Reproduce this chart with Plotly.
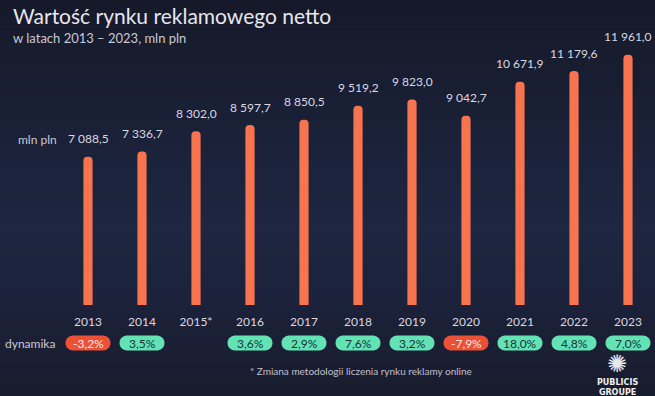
import math
import plotly.graph_objects as go

years = ["2013", "2014", "2015*", "2016", "2017", "2018", "2019", "2020", "2021", "2022", "2023"]
values = [7088.5, 7336.7, 8302.0, 8597.7, 8850.5, 9519.2, 9823.0, 9042.7, 10671.9, 11179.6, 11961.0]
dynamika = [-3.2, 3.5, None, 3.6, 2.9, 7.6, 3.2, -7.9, 18.0, 4.8, 7.0]

W, H = 655, 396
L, R, T, B = 61, 0, 40, 91
PW, PH = W - L - R, H - T - B


def px_x(px):
    return (px - L) / PW


def px_y(py):
    return (H - B - py) / PH


def pl(v, d=1):
    s = f"{abs(v):,.{d}f}".replace(",", " ").replace(".", ",")
    return ("-" if v < 0 else "") + s


def pill_path(hw, hh, n=14):
    a = hw - hh
    pts = []
    for k in range(n + 1):
        t = -math.pi / 2 + math.pi * k / n
        pts.append((a + hh * math.cos(t), hh * math.sin(t)))
    for k in range(n + 1):
        t = math.pi / 2 + math.pi * k / n
        pts.append((-a + hh * math.cos(t), hh * math.sin(t)))
    return "M " + " L ".join(f"{x:.2f},{y:.2f}" for x, y in pts) + " Z"


def mix(c1, c2, t):
    return "#" + "".join(f"{round(a + (b - a) * t):02x}" for a, b in zip(c1, c2))


FONT = "Lato"
xs = list(range(len(years)))

fig = go.Figure()
fig.add_trace(go.Bar(
    x=xs, y=values, width=0.17,
    marker=dict(color="#f8744f", line=dict(width=0)),
    hoverinfo="skip",
))

shapes = []
# soft vertical background gradient (decoration)
stops = [(0, (21, 25, 41)), (230, (30, 38, 66)), (396, (24, 28, 46))]
nb = 40
for k in range(nb):
    y0, y1 = H * k / nb, H * (k + 1) / nb
    yc = (y0 + y1) / 2
    for (a, ca), (b, cb) in zip(stops[:-1], stops[1:]):
        if a <= yc <= b:
            col = mix(ca, cb, (yc - a) / (b - a))
    shapes.append(dict(type="rect", xref="paper", yref="paper", x0=px_x(0), x1=px_x(W),
                       y0=px_y(y1 + 0.5), y1=px_y(y0), fillcolor=col, line=dict(width=0),
                       layer="below"))

ann = []
for i, v in enumerate(values):
    ann.append(dict(x=i, y=v, xref="x", yref="y", text=pl(v), showarrow=False,
                    yanchor="middle", yshift=18,
                    font=dict(family=FONT, size=12, color="#d9d9e2")))

yp = px_y(343)
PILL = pill_path(22.5, 7.5)
for i, d in enumerate(dynamika):
    if d is None:
        continue
    neg = d < 0
    col = "#ec5138" if neg else "#63e2b4"
    shapes.append(dict(type="path", xref="x", yref="paper", xsizemode="pixel", ysizemode="pixel",
                       xanchor=i, yanchor=yp, path=PILL, fillcolor=col, line=dict(width=0), layer="above"))
    ann.append(dict(x=i, y=yp, xref="x", yref="paper", text=pl(d) + "%", showarrow=False,
                    yanchor="middle", xanchor="center",
                    font=dict(family=FONT, size=12, color="#fde8e4" if neg else "#16323a")))

ann += [
    dict(x=px_x(12), y=px_y(15), xref="paper", yref="paper", text="Wartość rynku reklamowego netto",
         showarrow=False, xanchor="left", yanchor="middle", borderpad=0,
         font=dict(family=FONT, size=21, color="#e6e6ee")),
    dict(x=px_x(12), y=px_y(38), xref="paper", yref="paper", text="w latach 2013 – 2023, mln pln",
         showarrow=False, xanchor="left", yanchor="middle", borderpad=0,
         font=dict(family=FONT, size=13, color="#c9c9d4")),
    dict(x=px_x(16), y=px_y(139), xref="paper", yref="paper", text="mln pln",
         showarrow=False, xanchor="left", yanchor="middle",
         font=dict(family=FONT, size=12, color="#c9c9d4")),
    dict(x=px_x(3), y=px_y(343), xref="paper", yref="paper", text="dynamika",
         showarrow=False, xanchor="left", yanchor="middle",
         font=dict(family=FONT, size=12, color="#c9c9d4")),
    dict(x=px_x(361), y=px_y(371), xref="paper", yref="paper",
         text="* Zmiana metodologii liczenia rynku reklamy online",
         showarrow=False, xanchor="center", yanchor="middle",
         font=dict(family=FONT, size=10, color="#c0c0cc")),
    dict(x=px_x(617), y=px_y(364), xref="paper", yref="paper", text="✺",
         showarrow=False, xanchor="center", yanchor="middle",
         font=dict(family="DejaVu Sans", size=24, color="#e8e8ee")),
    dict(x=px_x(617), y=px_y(387), xref="paper", yref="paper",
         text="<b>PUBLICIS</b><br><b>GROUPE</b>",
         showarrow=False, xanchor="center", yanchor="middle",
         font=dict(family="DejaVu Sans", size=8, color="#f0f0f0")),
]

fig.update_layout(
    width=W, height=H,
    margin=dict(l=L, r=R, t=T, b=B, pad=0),
    paper_bgcolor="#1a1f36", plot_bgcolor="rgba(0,0,0,0)",
    barcornerradius=5,
    showlegend=False,
    xaxis=dict(range=[-0.5, 10.5], tickmode="array", tickvals=xs, ticktext=years,
               showgrid=False, zeroline=False, showline=False, ticks="",
               ticklabelstandoff=8,
               tickfont=dict(family=FONT, size=12, color="#d9d9e2")),
    yaxis=dict(range=[0, 12661], visible=False),
    annotations=ann, shapes=shapes,
)

fig.write_html("out.html", config={"displayModeBar": False},
               post_script="document.body.style.margin='0';document.body.style.overflow='hidden';")
